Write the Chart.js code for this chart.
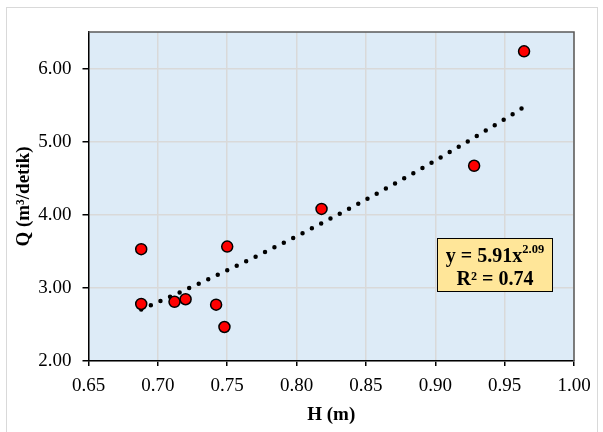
<!DOCTYPE html>
<html>
<head>
<meta charset="utf-8">
<script src="https://cdn.jsdelivr.net/npm/chart.js@4"></script>
<style>
  html, body { margin: 0; padding: 0; background: #fff; }
  #wrap { width: 603px; height: 432px; position: relative; }
</style>
</head>
<body>
<div id="wrap"><canvas id="c"></canvas></div>
<script>
  const H = [0.688, 0.688, 0.712, 0.720, 0.742, 0.748, 0.750, 0.818, 0.928, 0.964];
  const Q = [3.53, 2.78, 2.81, 2.845, 2.77, 2.465, 3.565, 4.08, 4.67, 6.235];

  // power trendline as printed on the chart: y = a * x^b
  const trendCoef = [5.91, 2.09];
  const trendRange = [0.688, 0.964];
  const eqLines = ["y = 5.91x", "2.09", "R² = 0.74"];

  const xTicks = [0.65, 1.0, 0.05];
  const yTicks = [2, 6.5, 1];

  const FONT = "'Liberation Serif', 'Times New Roman', serif";

  const trend = [];
  for (let i = 0; i <= 40; i++) {
    const x = trendRange[0] + (trendRange[1] - trendRange[0]) * i / 40;
    trend.push({ x, y: trendCoef[0] * Math.pow(x, trendCoef[1]) });
  }

  const frame = {
    id: "frame",
    beforeDraw(chart) {
      const { ctx, chartArea: a } = chart;
      ctx.save();
      ctx.strokeStyle = "#d9d9d9";
      ctx.lineWidth = 1;
      ctx.strokeRect(6.5, 7.5, 591, 440);
      ctx.fillStyle = "#ddebf7";
      ctx.fillRect(a.left, a.top, a.right - a.left, a.bottom - a.top);
      ctx.restore();
    },
    beforeDatasetsDraw(chart) {
      const { ctx, chartArea: a } = chart;
      ctx.save();
      ctx.strokeStyle = "#595959";
      ctx.lineWidth = 1.5;
      ctx.beginPath();
      ctx.moveTo(a.left, a.top);
      ctx.lineTo(a.right, a.top);
      ctx.lineTo(a.right, a.bottom);
      ctx.stroke();
      ctx.restore();
    },
    afterDraw(chart) {
      const { ctx } = chart;
      ctx.save();
      const bx = 437.5, by = 238.5, bw = 115, bh = 53;
      ctx.fillStyle = "#ffe699";
      ctx.fillRect(bx, by, bw, bh);
      ctx.strokeStyle = "#000";
      ctx.lineWidth = 1;
      ctx.strokeRect(bx, by, bw, bh);
      ctx.fillStyle = "#000";
      ctx.textBaseline = "alphabetic";
      const cx = bx + bw / 2;
      ctx.font = "bold 20px " + FONT;
      const w1 = ctx.measureText(eqLines[0]).width;
      ctx.font = "bold 12.5px " + FONT;
      const w2 = ctx.measureText(eqLines[1]).width;
      const x0 = cx - (w1 + w2) / 2;
      ctx.font = "bold 20px " + FONT;
      ctx.textAlign = "left";
      ctx.fillText(eqLines[0], x0, 262);
      ctx.font = "bold 12.5px " + FONT;
      ctx.fillText(eqLines[1], x0 + w1, 253);
      ctx.font = "bold 20px " + FONT;
      ctx.textAlign = "center";
      ctx.fillText(eqLines[2], cx, 284.5);
      ctx.restore();
    }
  };

  new Chart(document.getElementById("c"), {
    type: "scatter",
    data: {
      datasets: [
        {
          label: "trend",
          type: "line",
          data: trend,
          borderColor: "#000",
          borderWidth: 4.5,
          borderDash: [0, 10.5],
          borderCapStyle: "round",
          pointRadius: 0,
          fill: false,
          tension: 0,
          order: 2,
        },
        {
          label: "Q",
          data: H.map((h, i) => ({ x: h, y: Q[i] })),
          backgroundColor: "#ff0000",
          borderColor: "#000",
          borderWidth: 1.5,
          pointRadius: 5.5,
          order: 1,
        },
      ],
    },
    options: {
      responsive: true,
      maintainAspectRatio: false,
      animation: false,
      layout: { padding: { left: 0, right: 29, top: 32, bottom: 0 } },
      plugins: { legend: { display: false }, tooltip: { enabled: false } },
      scales: {
        x: {
          type: "linear",
          min: xTicks[0], max: xTicks[1],
          afterFit: (s) => { s.height = 71; },
          ticks: {
            stepSize: xTicks[2],
            color: "#000",
            padding: 9,
            font: { family: FONT, size: 19 },
            callback: (v) => v.toFixed(2),
          },
          grid: { color: "#d9d9d9", lineWidth: 1.5, tickColor: "#000", tickLength: 5 },
          border: { color: "#000", width: 1.5 },
          title: { display: true, text: "H (m)", color: "#000", font: { family: FONT, size: 19, weight: "bold" }, padding: { top: 2, bottom: 6 } },
        },
        y: {
          min: yTicks[0], max: yTicks[1],
          afterFit: (s) => { s.width = 88.5; },
          ticks: {
            stepSize: yTicks[2],
            includeBounds: false,
            color: "#000",
            padding: 11,
            font: { family: FONT, size: 19 },
            callback: (v) => v.toFixed(2),
          },
          grid: { color: "#d9d9d9", lineWidth: 1.5, tickColor: "#000", tickLength: 6 },
          border: { color: "#000", width: 1.5 },
          title: { display: true, text: "Q (m³/detik)", color: "#000", font: { family: FONT, size: 19, weight: "bold" }, padding: { top: 13, bottom: 2 } },
        },
      },
    },
    plugins: [frame],
  });
</script>
</body>
</html>
